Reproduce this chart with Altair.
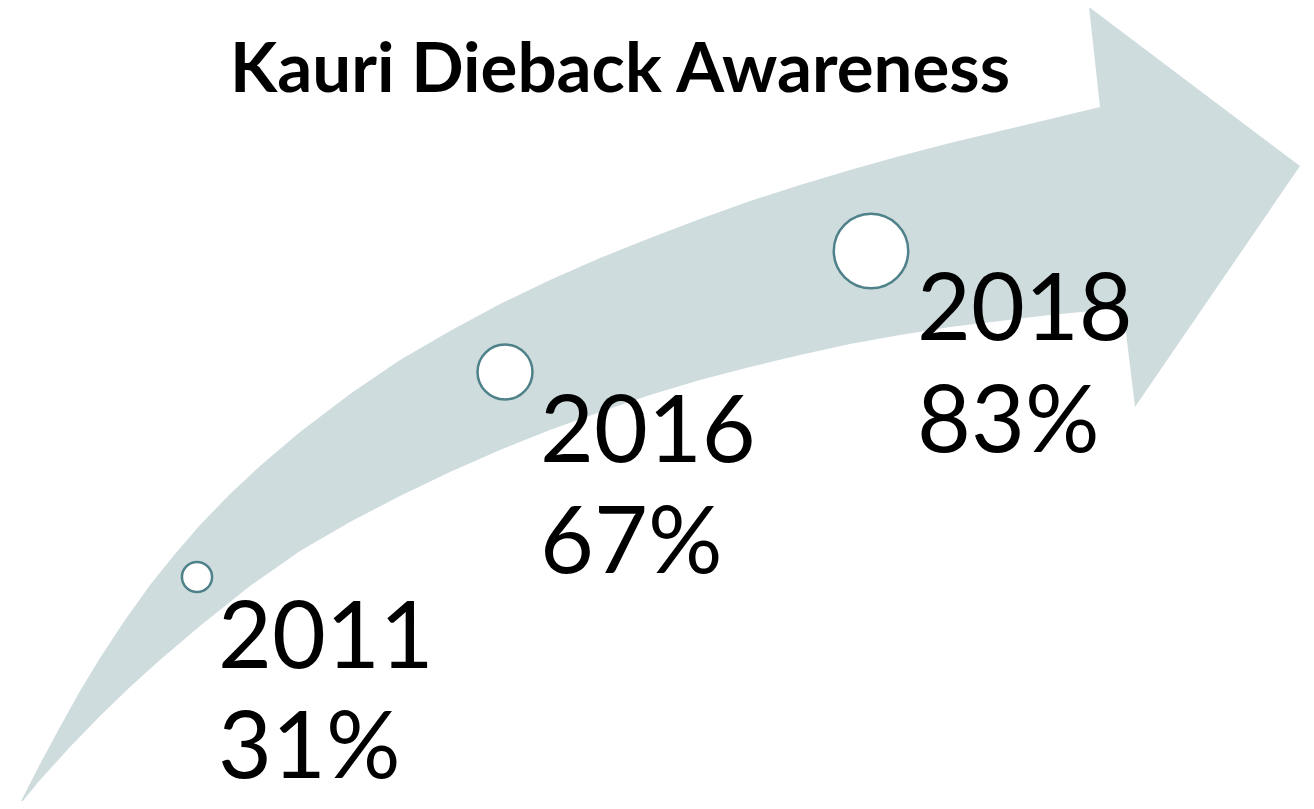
import math
import altair as alt
import pandas as pd

# ---- data ----
years = ["2011", "2016", "2018"]
awareness = ["31%", "67%", "83%"]
title_text = "Kauri Dieback Awareness"

# ---- layout (pixel coordinates of the drawing, y downward) ----
OFF = 8
circle_cx = [197, 505, 871]
circle_cy = [577, 372, 251]
circle_r = [17, 31, 42]
text_x = [218, 540, 917]
year_base = [668, 462, 340]
pct_base = [778, 573, 452]

upper_x = [18, 40, 60, 80, 100, 125, 150, 175, 200, 230, 260, 300, 350, 400, 450, 500, 550, 600, 650, 700, 750, 800, 850, 900, 950, 1000, 1050, 1100]
upper_y = [807, 764, 727, 691, 658, 620, 585, 554, 525, 494, 466, 432, 394, 360, 331, 304, 280, 258, 238, 219, 201, 185, 170, 156, 143, 131, 119, 107]
head_x = [1089, 1300, 1135, 1123]
head_y = [7, 166, 407, 308]
lower_x = [1050, 1000, 950, 900, 850, 800, 750, 700, 650, 600, 550, 500, 450, 400, 350, 300, 250, 200, 160, 130, 100, 70, 40, 18]
lower_y = [315, 321, 327, 335, 344, 355, 367, 380, 395, 412, 430, 450, 472, 496, 522, 551, 586, 626, 660, 687, 716, 747, 780, 807]

ring = [[x - OFF, y - OFF] for x, y in zip(upper_x + head_x + lower_x, upper_y + head_y + lower_y)]
arrow_feature = {
    "type": "Feature",
    "properties": {},
    "geometry": {"type": "Polygon", "coordinates": [ring]},
}

proj = dict(type="identity", scale=1, translate=[0, 0])

arrow = alt.Chart(alt.Data(values=[arrow_feature])).mark_geoshape(
    fill="#CFDCDE", strokeWidth=0
).project(**proj)

circ_df = pd.DataFrame({
    "year": years,
    "lon": [c - OFF for c in circle_cx],
    "lat": [c - OFF for c in circle_cy],
    "size": [math.pi * r * r for r in circle_r],
})
circles = alt.Chart(circ_df).mark_circle(
    fill="white", stroke="#4E8189", strokeWidth=2.5, opacity=1
).encode(
    longitude="lon:Q", latitude="lat:Q", size=alt.Size("size:Q", scale=None)
).project(**proj)

lab_df = pd.DataFrame({
    "label": years + awareness,
    "lon": [t - OFF for t in text_x] * 2,
    "lat": [b - OFF for b in year_base + pct_base],
})
labels = alt.Chart(lab_df).mark_text(
    align="left", baseline="alphabetic", font="Lato", fontSize=93, color="black"
).encode(longitude="lon:Q", latitude="lat:Q", text="label:N").project(**proj)

title_df = pd.DataFrame({"label": [title_text], "lon": [620 - OFF], "lat": [92 - OFF]})
title = alt.Chart(title_df).mark_text(
    align="center", baseline="alphabetic", font="Lato", fontSize=69, fontWeight="bold", color="black"
).encode(longitude="lon:Q", latitude="lat:Q", text="label:N").project(**proj)

chart = alt.layer(arrow, circles, labels, title).properties(
    width=1298, height=793, padding=0, autosize=alt.AutoSizeParams(type="none")
).configure_view(stroke=None)

chart.save("out.html", embed_options={"renderer": "svg", "actions": False})
